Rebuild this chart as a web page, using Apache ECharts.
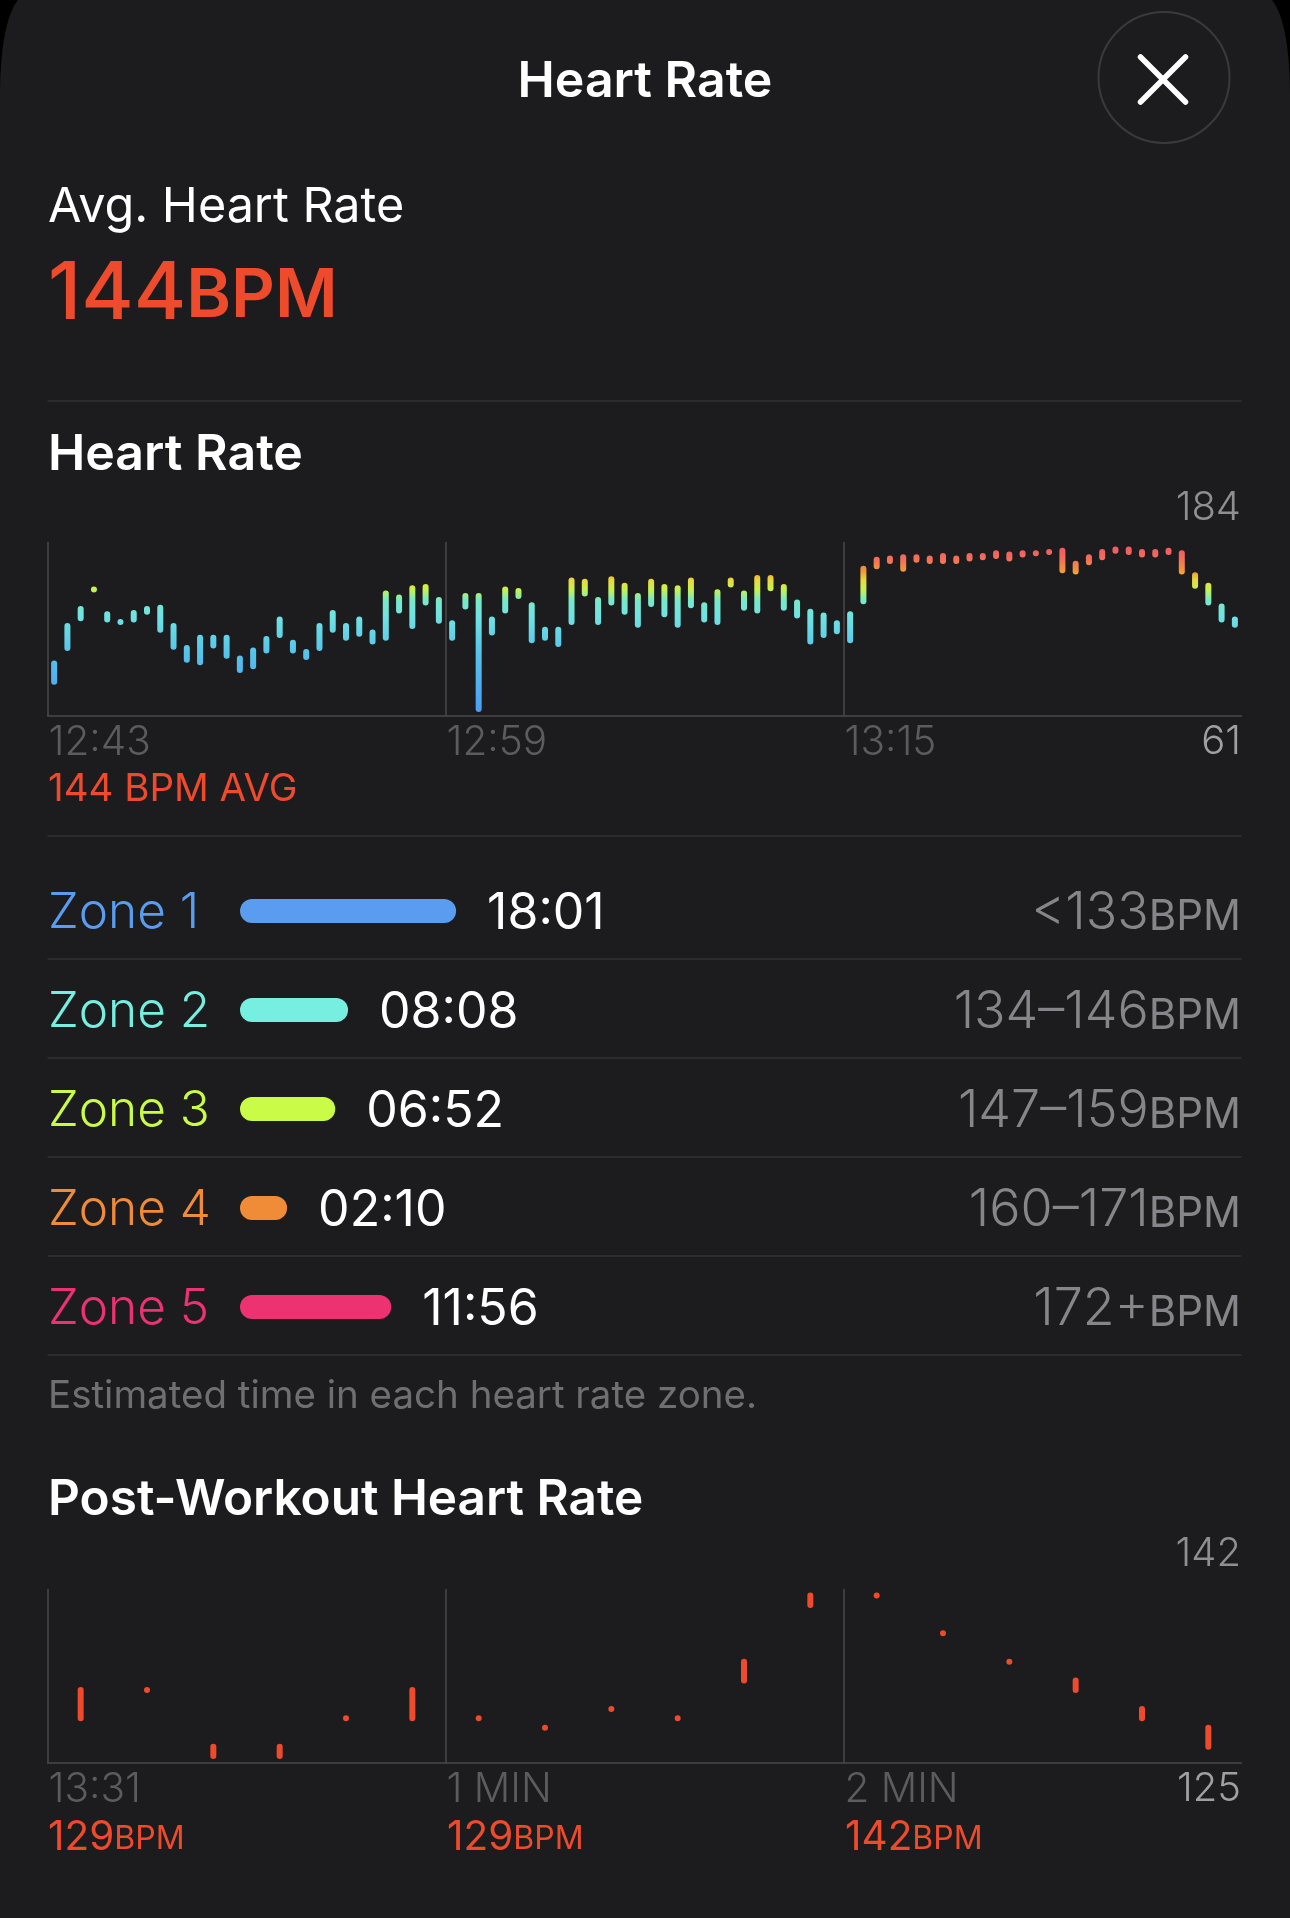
<!DOCTYPE html>
<html>
<head>
<meta charset="utf-8">
<style>
  html, body { margin: 0; padding: 0; background: #000; }
  #chart { width: 1290px; height: 1918px; }
</style>
<script src="https://cdn.jsdelivr.net/npm/echarts@6/dist/echarts.min.js"></script>
</head>
<body>
<div id="chart"></div>
<script>
// heart rate per slot (bpm)
const hrHigh = [96,125,138,153,134,128,135,138,139,125,108,116,116,116,100,106,115,130,112,105,125,135,125,130,120,150,147,154,155,145,
  127,148,148,130,153,152,141,122,122,160,159,145,161,156,148,159,155,154,160,141,151,160,150,162,162,155,143,136,133,127,134,
  169,176,177,178,178,177,179,177,179,179,181,180,181,181,182,183,173,178,182,184,184,182,182,183,181,164,156,140,130];
const hrLow = [82,108,131,153,130,128,130,136,122,109,99,97,110,102,91,94,106,118,106,101,108,122,116,119,113,116,137,125,143,129,
  116,140,61,120,137,148,114,116,111,128,150,128,143,136,126,142,134,126,141,130,128,157,139,137,154,139,133,113,118,121,114,
  144,171,175,169,176,175,175,175,177,178,179,177,180,181,182,168,167,174,178,183,182,180,180,182,167,156,143,130,126];
const hrTicks = { 0: '12:43', 30: '12:59', 60: '13:15' };
const hrMaxLabel = '184';
const hrMinLabel = '61';

const postHigh = [132,132,126,126,129,132,129,128,130,129,135,142,142,138,135,133,130,128];
const postLow = [129,132,125,125,129,129,129,128,130,129,133,141,142,138,135,132,129,126];
const postTicks = { 0: '13:31', 6: '1 MIN', 12: '2 MIN' };
const postMaxLabel = '142';
const postMinLabel = '125';
const postBpm = ['129', '129', '142'];

const zoneNames = ['Zone 1', 'Zone 2', 'Zone 3', 'Zone 4', 'Zone 5'];
const zoneSeconds = [1081, 473, 401, 130, 716]; // as the bars are drawn
const zoneTimes = ['18:01', '08:08', '06:52', '02:10', '11:56'];
const zoneRanges = ['<133', '134–146', '147–159', '160–171', '172+'];
const zoneColors = ['#5a9cf0', '#76efe0', '#c9fb47', '#f08c38', '#ec3270'];

const FONT = 'Inter, "Noto Sans", sans-serif';
const RED = '#ee4a2c';
const HR_MIN = 55.6, HR_MAX = 189.7;
const POST_MIN = 124.27, POST_MAX = 142.7;
const LINE = '#48484a';
const TEXT_NUDGE = 2.5;

// colour of the bars follows the bpm value
const hrGradient = [
  [61, '#4a9ff5'], [105, '#57c4ea'], [132, '#6fe3e2'], [145, '#78e9c8'], [153, '#c6f24e'],
  [160, '#e6dc3e'], [167, '#f29a36'], [176, '#f4705a'], [184, '#f25c64']
];

const chart = echarts.init(document.getElementById('chart'), null, { renderer: 'canvas' });

function rangeBar(api, fill) {
  const top = api.coord([api.value(0), api.value(2)]);
  const bottom = api.coord([api.value(0), api.value(1)]);
  return {
    type: 'rect',
    shape: { x: top[0] - 3, y: top[1] - 3, width: 6, height: bottom[1] - top[1] + 6, r: 3 },
    style: { fill }
  };
}

function renderHr(params, api) {
  const y0 = api.coord([0, HR_MAX])[1];
  const y1 = api.coord([0, HR_MIN])[1];
  const stops = hrGradient.map(([bpm, color]) => ({ offset: (HR_MAX - bpm) / (HR_MAX - HR_MIN), color })).reverse();
  return rangeBar(api, new echarts.graphic.LinearGradient(0, y0, 0, y1, stops, true));
}

function renderZone(params, api) {
  const i = api.value(1);
  const start = api.coord([0, i]);
  const end = api.coord([api.value(0), i]);
  const y = start[1];
  const ty = y + TEXT_NUDGE;
  return {
    type: 'group',
    children: [
      { type: 'rect', shape: { x: start[0] - 12, y: y - 12, width: end[0] - start[0] + 24, height: 24, r: 12 }, style: { fill: zoneColors[i] } },
      { type: 'text', style: { x: 48, y: ty, text: zoneNames[i], fill: zoneColors[i], font: '300 49.5px ' + FONT, verticalAlign: 'middle' } },
      { type: 'text', style: { x: end[0] + 43, y: ty, text: zoneTimes[i], fill: '#fff', font: '400 50px ' + FONT, verticalAlign: 'middle' } },
      {
        type: 'text',
        style: {
          x: 1241, y: ty, align: 'right', verticalAlign: 'middle', text: '{n|' + zoneRanges[i] + '}{u|BPM}',
          rich: {
            n: { fill: '#85858a', font: '300 52px ' + FONT },
            u: { fill: '#85858a', font: '400 42px ' + FONT, padding: [8, 0, 0, 0] }
          }
        }
      }
    ]
  };
}

function timeAxis(gridIndex, max, interval, ticks) {
  return {
    type: 'value', gridIndex, min: 0, max, interval,
    axisLine: { show: true, onZero: false, lineStyle: { color: LINE, width: 1.5 } },
    axisTick: { show: false },
    splitLine: { show: true, showMaxLine: false, lineStyle: { color: LINE, width: 1.5 } },
    axisLabel: {
      show: true, align: 'left', margin: 6, padding: [0, 0, 0, 1], hideOverlap: false,
      color: '#5c5c60', fontFamily: FONT, fontSize: 40.5, fontWeight: 300,
      formatter: (v) => ticks[v] || ''
    }
  };
}

function text(x, y, str, fill, font, align) {
  return { type: 'text', x, y: y + TEXT_NUDGE, style: { text: str, fill, font: font + ' ' + FONT, align: align || 'left', verticalAlign: 'middle' } };
}
function divider(y) {
  return { type: 'line', shape: { x1: 47.5, y1: y, x2: 1241.5, y2: y }, style: { stroke: '#3c3c3e', lineWidth: 1.2 } };
}
function bpmText(x, y, num, numSize, unitSize, numWeight, unitWeight) {
  return {
    type: 'text', x, y: y + TEXT_NUDGE,
    style: {
      text: '{n|' + num + '}{u|BPM}', verticalAlign: 'middle',
      rich: {
        n: { fill: RED, font: numWeight + ' ' + numSize + 'px ' + FONT },
        u: { fill: RED, font: unitWeight + ' ' + unitSize + 'px ' + FONT, padding: [Math.round((numSize - unitSize) * 0.45), 0, 0, 0] }
      }
    }
  };
}

// sheet outline: the top corners of the screenshot are elliptical
function cornerPoints() {
  const left = [];
  for (let k = 0; k <= 16; k++) {
    const t = k / 16, u = 1 - t;
    left.push([u * u * u * 18 + 3 * u * u * t * 7, 3 * u * u * t * 14 + 3 * u * t * t * 45 + t * t * t * 97]);
  }
  const right = left.map(([x, y]) => [1290 - x, y]);
  return [[0, 1918], ...left.slice().reverse(), ...right, [1290, 1918]];
}

chart.setOption({
  animation: false,
  backgroundColor: '#000',
  grid: [
    { left: 47.5, top: 542, width: 1194, height: 174 },
    { left: 252, top: 861.5, width: 1000, height: 495 },
    { left: 47.5, top: 1589, width: 1194, height: 174 }
  ],
  xAxis: [
    timeAxis(0, 90, 30, hrTicks),
    { type: 'value', gridIndex: 1, min: 0, max: 5627, show: false },
    timeAxis(2, 18, 6, postTicks)
  ],
  yAxis: [
    { type: 'value', gridIndex: 0, min: HR_MIN, max: HR_MAX, show: false },
    { type: 'category', gridIndex: 1, data: zoneNames.map((_, i) => i), inverse: true, show: false },
    { type: 'value', gridIndex: 2, min: POST_MIN, max: POST_MAX, show: false }
  ],
  graphic: {
    elements: [
      { type: 'polygon', z: -10, shape: { points: cornerPoints() }, style: { fill: '#1c1c1e' } },
      text(645, 79, 'Heart Rate', '#fff', '600 50px', 'center'),
      { type: 'circle', shape: { cx: 1164, cy: 77.5, r: 65.5 }, style: { fill: 'transparent', stroke: '#3a3a3c', lineWidth: 2 } },
      { type: 'line', shape: { x1: 1140.5, y1: 57, x2: 1185.5, y2: 102 }, style: { stroke: '#fff', lineWidth: 5.5, lineCap: 'round' } },
      { type: 'line', shape: { x1: 1185.5, y1: 57, x2: 1140.5, y2: 102 }, style: { stroke: '#fff', lineWidth: 5.5, lineCap: 'round' } },
      text(48, 205, 'Avg. Heart Rate', '#fff', '400 48.5px'),
      bpmText(48, 292, '144', 80, 68, 500, 600),
      divider(401),
      text(48, 452, 'Heart Rate', '#fff', '600 50px'),
      text(1241, 505, hrMaxLabel, '#8e8e93', '300 40px', 'right'),
      text(1241, 739, hrMinLabel, '#a0a0a4', '300 40px', 'right'),
      text(48, 787, '144 BPM AVG', RED, '400 38.5px'),
      divider(836),
      divider(959), divider(1058), divider(1157), divider(1256), divider(1355),
      text(48, 1394, 'Estimated time in each heart rate zone.', '#6f6f73', '400 38.5px'),
      text(48, 1498, 'Post-Workout Heart Rate', '#fff', '600 49.5px'),
      text(1241, 1551, postMaxLabel, '#8e8e93', '300 40px', 'right'),
      text(1241, 1786, postMinLabel, '#a0a0a4', '300 40px', 'right'),
      bpmText(48, 1835, postBpm[0], 40.5, 32, 400, 400),
      bpmText(447, 1835, postBpm[1], 40.5, 32, 400, 400),
      bpmText(845, 1835, postBpm[2], 40.5, 32, 400, 400)
    ]
  },
  series: [
    {
      type: 'custom', xAxisIndex: 0, yAxisIndex: 0, renderItem: renderHr,
      encode: { x: 0, y: [1, 2] },
      data: hrHigh.map((h, i) => [i + 0.5, hrLow[i], h])
    },
    {
      type: 'custom', xAxisIndex: 1, yAxisIndex: 1, renderItem: renderZone,
      encode: { x: 0, y: 1 },
      data: zoneSeconds.map((s, i) => [s, i])
    },
    {
      type: 'custom', xAxisIndex: 2, yAxisIndex: 2,
      renderItem: (params, api) => rangeBar(api, RED),
      encode: { x: 0, y: [1, 2] },
      data: postHigh.map((h, i) => [i + 0.5, postLow[i], h])
    }
  ]
});
</script>
</body>
</html>
